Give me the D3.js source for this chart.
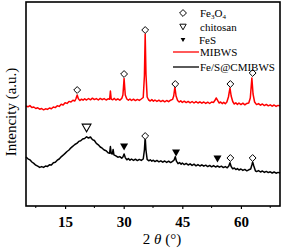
<!DOCTYPE html>
<html>
<head>
<meta charset="utf-8">
<script src="https://cdn.jsdelivr.net/npm/d3@7"></script>
<style>
  body { margin: 0; background: #fff; }
  svg { display: block; }
  text { font-family: "Liberation Serif", "DejaVu Serif", serif; }
</style>
</head>
<body>
<svg id="chart"></svg>
<script>
const width = 283, height = 250;
const margin = { top: 2, right: 3, bottom: 44, left: 26 };
const serif = "Liberation Serif";

// XRD patterns: [2theta, intensity (a.u.)]
const mibws = [
  [5,1000],[5.5,992],[6,1004],[6.5,985],[7,990],[7.5,975],[8,982],[8.5,968],[9,975],[9.5,962],
  [10,972],[10.5,966],[11,980],[11.5,972],[12,990],[12.5,984],[13,1002],[13.5,996],[14,1018],[14.5,1010],
  [15,1032],[15.5,1026],[16,1046],[16.5,1040],[17,1058],[17.5,1050],[17.8,1075],[18.1,1110],[18.4,1072],[18.8,1055],
  [19.2,1068],[19.6,1058],[20,1072],[20.5,1060],[21,1075],[21.5,1062],[22,1078],[22.5,1064],[23,1074],[23.5,1060],
  [24,1076],[24.5,1063],[25,1074],[25.5,1060],[26,1072],[26.4,1068],[26.6,1150],[26.8,1070],[27.2,1062],[27.6,1076],
  [28,1060],[28.5,1072],[29,1058],[29.5,1076],[29.8,1110],[30.1,1275],[30.4,1110],[30.8,1070],[31.2,1058],[31.6,1070],
  [32,1055],[32.5,1068],[33,1054],[33.5,1066],[34,1056],[34.5,1070],[35,1085],[35.3,1300],[35.5,1720],[35.7,1320],
  [36,1090],[36.4,1060],[36.8,1050],[37.2,1064],[37.6,1048],[38,1060],[38.5,1046],[39,1058],[39.5,1044],[40,1056],
  [40.5,1042],[41,1055],[41.5,1043],[42,1058],[42.5,1066],[42.8,1100],[43.1,1190],[43.4,1100],[43.8,1055],[44.2,1040],
  [44.6,1052],[45,1036],[45.5,1048],[46,1034],[46.5,1046],[47,1032],[47.5,1045],[48,1030],[48.5,1044],[49,1030],
  [49.5,1042],[50,1028],[50.5,1040],[51,1026],[51.5,1038],[52,1025],[52.5,1040],[53,1036],[53.4,1060],[53.7,1080],
  [54,1058],[54.4,1030],[54.8,1040],[55.2,1024],[55.6,1036],[56,1022],[56.4,1040],[56.8,1090],[57.2,1180],[57.5,1100],
  [57.9,1045],[58.3,1020],[58.7,1032],[59.1,1016],[59.5,1030],[60,1014],[60.5,1028],[61,1012],[61.5,1026],[62,1030],
  [62.4,1080],[62.8,1280],[63.1,1120],[63.5,1040],[64,1014],[64.5,1024],[65,1008],[65.5,1020],[66,1004],[66.5,1016],
  [67,1002],[67.5,1012],[68,998],[68.5,1010],[69,996],[69.5,1006],[70,1000]
];

const fesCm = [
  [5,490],[5.5,472],[6,462],[6.5,440],[7,426],[7.5,408],[8,398],[8.5,386],[9,394],[9.5,386],
  [10,400],[10.5,396],[11,412],[11.5,410],[12,432],[12.5,438],[13,458],[13.5,470],[14,492],[14.5,508],
  [15,526],[15.5,545],[16,560],[16.5,582],[17,598],[17.5,615],[18,626],[18.5,646],[19,652],[19.5,670],
  [20,675],[20.5,692],[21,680],[21.5,690],[22,664],[22.5,655],[23,626],[23.5,612],[24,590],[24.5,578],
  [25,560],[25.5,552],[26,532],[26.4,528],[26.6,595],[26.8,525],[27.1,520],[27.3,565],[27.5,512],[28,502],
  [28.5,488],[29,494],[29.5,478],[29.8,490],[30.1,520],[30.4,484],[30.8,462],[31.2,474],[31.6,458],[32,470],
  [32.5,456],[33,468],[33.5,454],[34,466],[34.5,456],[35,470],[35.3,560],[35.5,690],[35.7,560],[36,466],
  [36.4,452],[36.8,462],[37.2,448],[37.6,458],[38,444],[38.5,456],[39,442],[39.5,452],[40,438],[40.5,450],
  [41,436],[41.5,448],[42,434],[42.5,446],[42.9,460],[43.2,492],[43.5,448],[43.9,424],[44.3,434],[44.7,418],
  [45,430],[45.5,414],[46,426],[46.5,410],[47,422],[47.5,406],[48,418],[48.5,402],[49,414],[49.5,400],
  [50,412],[50.5,398],[51,408],[51.5,394],[52,406],[52.5,392],[53,404],[53.5,390],[54,400],[54.5,388],
  [55,398],[55.5,384],[56,394],[56.5,382],[56.9,400],[57.2,432],[57.5,395],[57.9,372],[58.3,380],[58.7,364],
  [59.1,374],[59.5,360],[60,370],[60.5,356],[61,366],[61.5,352],[62,362],[62.5,370],[62.8,410],[63,440],
  [63.3,400],[63.7,352],[64,344],[64.5,354],[65,340],[65.5,350],[66,336],[66.5,346],[67,334],[67.5,342],
  [68,330],[68.5,340],[69,328],[69.5,336],[70,330]
];

// Peak markers
const fe3o4Red = [[18.1,1160],[30.1,1320],[35.5,1760],[43.2,1220],[57.3,1220],[63,1330]];
const fe3o4Black = [[35.5,700],[57.3,480],[63,480]];
const chitosanMarks = [[20.5,780]];
const fesMarks = [[30.1,590],[43.4,530],[54,470]];

const xTicks = [15, 30, 45, 60];
const xMinorTicks = [7.5, 22.5, 37.5, 52.5, 67.5];

const svg = d3.select("#chart").attr("width", width).attr("height", height)
  .attr("font-family", serif);

const x = d3.scaleLinear().domain([5, 70]).range([margin.left, width - margin.right]);
const y = d3.scaleLinear().domain([0, 2040]).range([height - margin.bottom, margin.top]);

const line = d3.line().x(d => x(d[0])).y(d => y(d[1]));

svg.append("path").datum(mibws)
  .attr("fill", "none").attr("stroke", "#ff0000").attr("stroke-width", 1.5)
  .attr("stroke-linejoin", "round").attr("d", line);

svg.append("path").datum(fesCm)
  .attr("fill", "none").attr("stroke", "#000").attr("stroke-width", 1.5)
  .attr("stroke-linejoin", "round").attr("d", line);

// marker shapes
const diamond = d3.symbol().type(d3.symbolDiamond2).size(30);
const triDown = "M-4,-3.5L4,-3.5L0,3.5Z";

function drawDiamonds(data) {
  svg.selectAll(null).data(data).join("path")
    .attr("transform", d => `translate(${x(d[0])},${y(d[1])})`)
    .attr("d", diamond)
    .attr("fill", "#fff").attr("stroke", "#000").attr("stroke-width", 1);
}
drawDiamonds(fe3o4Red);
drawDiamonds(fe3o4Black);

svg.selectAll(null).data(chitosanMarks).join("path")
  .attr("transform", d => `translate(${x(d[0])},${y(d[1])}) scale(1.1)`)
  .attr("d", triDown).attr("fill", "#fff").attr("stroke", "#000").attr("stroke-width", 1);

svg.selectAll(null).data(fesMarks).join("path")
  .attr("transform", d => `translate(${x(d[0])},${y(d[1])})`)
  .attr("d", triDown).attr("fill", "#000");

// axes
const xAxis = svg.append("g")
  .attr("transform", `translate(0,${height - margin.bottom})`)
  .call(d3.axisBottom(x).tickValues(xTicks).tickSize(3).tickPadding(7).tickFormat(d3.format("d")))
  .attr("font-family", serif);
xAxis.select(".domain").remove();
xAxis.selectAll("text").attr("font-size", 15).attr("font-weight", "bold")
  .attr("font-family", serif).attr("fill", "#000");
xAxis.selectAll("line").attr("stroke-width", 1.2);

svg.append("g")
  .attr("transform", `translate(0,${height - margin.bottom})`)
  .selectAll("line").data(xMinorTicks).join("line")
  .attr("x1", d => x(d)).attr("x2", d => x(d))
  .attr("y1", 0).attr("y2", 2).attr("stroke", "#000").attr("stroke-width", 1);

// frame
svg.append("rect")
  .attr("x", margin.left).attr("y", margin.top)
  .attr("width", width - margin.left - margin.right)
  .attr("height", height - margin.top - margin.bottom)
  .attr("fill", "none").attr("stroke", "#000").attr("stroke-width", 1.6);

// axis titles
const xt = svg.append("text")
  .attr("x", 162).attr("y", height - 6)
  .attr("text-anchor", "middle").attr("font-size", 15);
xt.append("tspan").text("2 ");
xt.append("tspan").attr("font-style", "italic").text("θ");
xt.append("tspan").text(" (°)");

svg.append("text")
  .attr("transform", `translate(16,${(margin.top + height - margin.bottom) / 2 + 8}) rotate(-90)`)
  .attr("text-anchor", "middle").attr("font-size", 15)
  .text("Intencity (a.u.)");

// legend
const lg = svg.append("g").attr("font-size", 11);
const symX = 183, txtX = 200;
const rows = [13, 27, 40, 52, 67];

lg.append("path").attr("transform", `translate(${symX},${rows[0]})`).attr("d", diamond)
  .attr("fill", "#fff").attr("stroke", "#000");
const t0 = lg.append("text").attr("x", txtX).attr("y", rows[0] + 4);
t0.append("tspan").text("Fe");
t0.append("tspan").attr("font-size", 7).attr("baseline-shift", "-25%").text("3");
t0.append("tspan").text("O");
t0.append("tspan").attr("font-size", 7).attr("baseline-shift", "-25%").text("4");

lg.append("path").attr("transform", `translate(${symX},${rows[1]}) scale(0.8)`).attr("d", triDown)
  .attr("fill", "#fff").attr("stroke", "#000").attr("stroke-width", 1.2);
lg.append("text").attr("x", txtX).attr("y", rows[1] + 4).text("chitosan");

lg.append("path").attr("transform", `translate(${symX},${rows[2]}) scale(0.6)`).attr("d", triDown)
  .attr("fill", "#000");
lg.append("text").attr("x", txtX - 1).attr("y", rows[2] + 4).text("FeS");

lg.append("line").attr("x1", 173).attr("x2", 199).attr("y1", rows[3]).attr("y2", rows[3])
  .attr("stroke", "#ff0000").attr("stroke-width", 1.3);
lg.append("text").attr("x", txtX).attr("y", rows[3] + 4).text("MIBWS");

lg.append("line").attr("x1", 173).attr("x2", 199).attr("y1", rows[4]).attr("y2", rows[4])
  .attr("stroke", "#000").attr("stroke-width", 1.3);
lg.append("text").attr("x", txtX).attr("y", rows[4] + 4).text("Fe/S@CMIBWS");
</script>
</body>
</html>
